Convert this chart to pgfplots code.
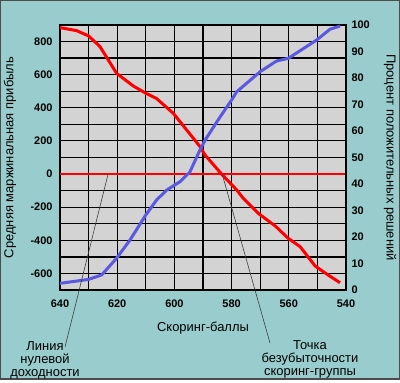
\documentclass[border=0pt]{standalone}
\usepackage{pgfplots}
\pgfplotsset{compat=1.18}
\usepackage{fontspec}
\setmainfont{Liberation Sans}
\definecolor{bgteal}{HTML}{99CCCC}
\definecolor{plotgray}{HTML}{D3D3D3}
\definecolor{curveblue}{HTML}{5A5AE0}
\begin{document}
\begin{tikzpicture}[x=1bp,y=1bp]
\fill[bgteal] (0,0) rectangle (400,380);
\draw[line width=1.5bp, black!70] (0.75,0.75) rectangle (399.25,379.25);
\begin{axis}[at={(60bp,90bp)}, anchor=south west, scale only axis,
  width=286bp, height=265bp,
  x dir=reverse, xmin=540, xmax=640, ymin=-700, ymax=900,
  axis background/.style={fill=plotgray},
  xtick={540,560,...,640}, minor xtick={550,570,...,630},
  ytick={-600,-400,...,800}, minor ytick={-700,-500,...,900},
  grid=both,
  major grid style={black, line width=1bp},
  minor grid style={black, line width=1.3bp},
  major tick length=0, minor tick length=0,
  axis line style={black, line width=1.3bp},
  /pgf/number format/assume math mode=true,
  ticklabel style={font=\fontsize{11}{13}\selectfont\bfseries},
  xticklabel style={anchor=north, yshift=-6bp},
  yticklabel style={anchor=east, xshift=-4bp},
  label style={font=\fontsize{13}{15}\selectfont},
  xlabel={Скоринг-баллы},
  xlabel style={at={(axis description cs:0.5,-0.143)}, anchor=center},
  ylabel={Средняя маржинальная прибыль},
  ylabel style={at={(axis description cs:-0.175,0.5)}, anchor=center, rotate=0},
  clip=false,
]
\addplot[red, line width=2bp] coordinates {(540,0) (640,0)};
\addplot[red, line width=3bp, line join=round] coordinates {
(640,884) (634.2,866) (630,834) (626,769) (620.2,608) (614.4,532) (610,488)
(606.3,457) (600.4,367) (595.7,266) (591,165) (589.3,115) (583.5,0)
(578.2,-96) (575.9,-147) (570.7,-237) (564.7,-314) (560.2,-388) (556,-439)
(550.8,-555) (546.2,-610) (542.1,-656)};
\coordinate (a1) at (axis cs:623.2,0);
\coordinate (a2) at (axis cs:583.3,0);
\end{axis}
\begin{axis}[at={(60bp,90bp)}, anchor=south west, scale only axis,
  width=286bp, height=265bp,
  x dir=reverse, xmin=540, xmax=640, ymin=0, ymax=100,
  axis y line*=right, axis x line=none,
  ytick={0,10,...,100},
  major tick length=0, minor tick length=0,
  axis line style={black, line width=1.3bp},
  /pgf/number format/assume math mode=true,
  ticklabel style={font=\fontsize{11}{13}\selectfont\bfseries},
  yticklabel style={anchor=west, xshift=2bp},
  label style={font=\fontsize{13}{15}\selectfont},
  ylabel={Процент положительных решений},
  ylabel style={at={(axis description cs:1.154,0.5)}, anchor=center, rotate=-180},
  clip=false,
]
\addplot[curveblue, line width=3bp, line join=round] coordinates {
(640,2.5) (630,4.0) (625.4,5.7) (620.2,12.0) (615.5,18.9) (610,28.3)
(606.2,34.0) (602.7,37.7) (598,40.9) (594.6,44.5) (591,53) (589,57)
(584.7,64.2) (580,71.7) (578.2,74.8) (570,82.4) (564.3,86.4) (560.2,87.4)
(550.3,94.3) (545.6,98.4) (542.1,99.6)};
\end{axis}
\draw[black!75, line width=0.6bp] (a1) -- (65,33);
\draw[black!75, line width=0.6bp] (a2) -- (270,37);
\node[align=center, font=\fontsize{13}{13}\selectfont] at (45,20) {Линия\\нулевой\\доходности};
\node[align=center, font=\fontsize{13}{13}\selectfont] at (310,21) {Точка\\безубыточности\\скоринг-группы};
\end{tikzpicture}
\end{document}
